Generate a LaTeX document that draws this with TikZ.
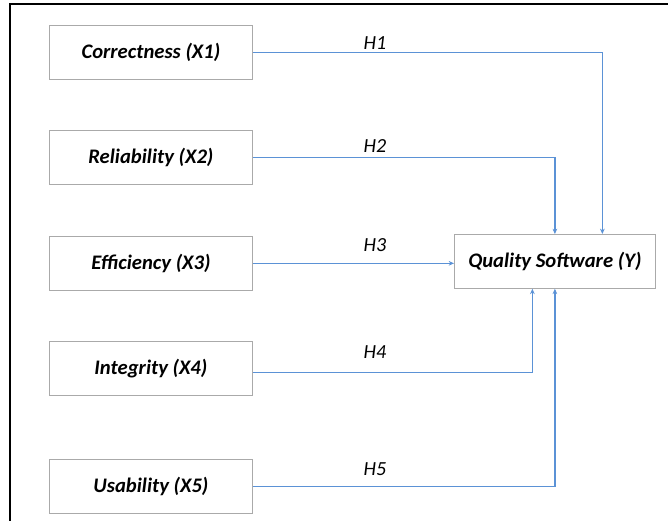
\documentclass[tikz,border=0pt]{standalone}
\usepackage{fontspec}
\setmainfont{Carlito}
\usetikzlibrary{arrows.meta,positioning}
\definecolor{linkblue}{RGB}{91,146,214}
\definecolor{boxgray}{RGB}{170,170,170}

\begin{document}
\begin{tikzpicture}[x=0.75pt,y=-0.75pt,>={Stealth[length=4pt,width=3.5pt]},
  var/.style={draw=boxgray,line width=0.6pt,fill=white,minimum width=152.25pt,minimum height=40.5pt,
    font=\fontsize{15.5}{18}\selectfont\bfseries\itshape},
  hyp/.style={font=\fontsize{15}{17}\selectfont\itshape},
  link/.style={draw=linkblue,line width=0.9pt}]
\useasboundingbox (0,0) rectangle (668,521);
\draw[line width=1.3pt] (10,521) -- (10,4) -- (668,4);
\node[var,anchor=north west] (x1) at (49,25) {Correctness (X1)};
\node[var,below=38pt of x1] (x2) {Reliability (X2)};
\node[var,below=38pt of x2] (x3) {Efficiency (X3)};
\node[var,below=38pt of x3] (x4) {Integrity (X4)};
\node[var,below=47.25pt of x4] (x5) {Usability (X5)};
\node[var,minimum width=150.75pt,anchor=north west] (y) at (454,234) {Quality Software (Y)};
\draw[link,->] (x1) -| ([xshift=35.6pt]y.north);
\draw[link,->] (x2) -| (y.north);
\draw[link,->] (x3) -- (x3 -| y.west);
\draw[link,->] ([yshift=-2.6pt]x4.east) -| ([xshift=-16.9pt]y.south);
\draw[link,->] (x5) -| (y.south);
\node[hyp] (h1) at (375,43) {H1};
\node[hyp] (h2) at (375,146) {H2};
\node[hyp] (h3) at (375,245) {H3};
\node[hyp] (h4) at (375,352) {H4};
\node[hyp] (h5) at (375,469) {H5};
\end{tikzpicture}
\end{document}
